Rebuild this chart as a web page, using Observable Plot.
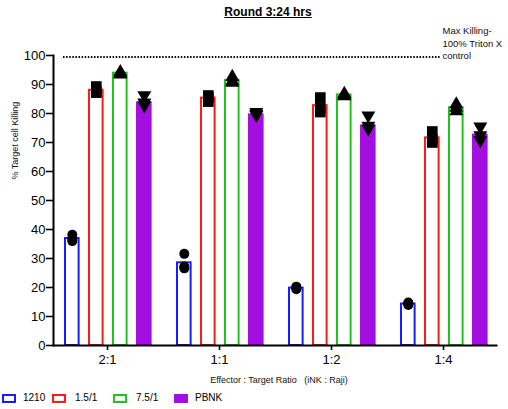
<!DOCTYPE html>
<html><head><meta charset="utf-8">
<script src="https://cdn.jsdelivr.net/npm/d3@7"></script>
<script src="https://cdn.jsdelivr.net/npm/@observablehq/plot@0.6"></script>
<style>
body{margin:0;background:#fff;font-family:"Liberation Sans",Arial,sans-serif;}
#wrap{position:relative;width:508px;height:409px;overflow:hidden;}
#title{position:absolute;left:0;top:4px;width:508px;text-align:center;padding-left:28px;box-sizing:border-box;font-size:12px;font-weight:bold;text-decoration:underline;line-height:16px;}
#chart{position:absolute;left:0;top:22px;}
.lg{position:absolute;top:393px;display:flex;align-items:center;font-size:10px;line-height:10px;}
.sw{width:10px;height:5px;box-sizing:content-box;}
</style></head><body>
<div id="wrap">
<div id="title">Round 3:24 hrs</div>
<div id="chart"></div>
<div id="legend"></div>
</div>
<script>
const groups = ["2:1", "1:1", "1:2", "1:4"];
const series = ["1210", "1.5/1", "7.5/1", "PBNK"];
const colors = ["#1b1bff", "#ff1b1b", "#1fc41f", "#a50ee0"];
const filled = [false, false, false, true];
const symbols = ["circle", "square", "triangle", "triangle"];
const rotations = [0, 0, 0, 180];
const symbolR = [5, 6, 5.2, 5.2];

// bar heights (means) per series, in group order
const mean1210 = [36.9, 28.5, 19.8, 14.3];
const mean15 = [88.0, 85.3, 82.7, 71.6];
const mean75 = [93.9, 91.4, 86.4, 82.0];
const meanPBNK = [84.0, 79.9, 76.0, 72.9];
const means = [mean1210, mean15, mean75, meanPBNK];

// replicate points per series, per group
const pts1210 = [[38.2, 36.5, 36.0], [31.6, 27.2, 26.6], [20.3, 19.8, 19.4], [14.8, 14.3, 14.0]];
const pts15 = [[89.3, 87.5, 87.2], [86.2, 85.5, 84.1], [85.5, 82.0, 80.5], [73.8, 71.0, 70.0]];
const pts75 = [[94.3, 93.8, 93.5], [92.6, 91.2, 90.6], [86.8, 86.3, 86.0], [83.2, 82.0, 80.8]];
const ptsPBNK = [[86.3, 83.8, 82.8], [80.5, 79.8, 79.5], [79.3, 75.8, 74.8], [75.5, 72.5, 70.8]];
const points = [pts1210, pts15, pts75, ptsPBNK];

const yTicks = [0, 10, 20, 30, 40, 50, 60, 70, 80, 90, 100];
const maxKill = 99.5;
const maxLabel = "Max Killing-\n100% Triton X\ncontrol";
const yLabel = "% Target cell Killing";
const xLabel = "Effector : Target Ratio   (iNK : Raji)";

const W = 508, H = 366, mL = 53, mR = 12, mT = 33, mB = 43;
const pIn = 0.218, pOut = 0.08;
const bw = d3.scaleBand(groups, [mL, W - mR]).paddingInner(pIn).paddingOuter(pOut).bandwidth();
const slotStep = 24, slotW = 15.5, slot0 = 1;

const marks = [];
series.forEach((s, i) => {
  const rows = groups.map((g, j) => ({group: g, value: means[i][j]}));
  const start = slot0 + slotStep * i;
  const adj = filled[i] ? 0 : 1;
  marks.push(Plot.barY(rows, {
    x: "group", y: "value",
    fill: filled[i] ? colors[i] : "white",
    stroke: filled[i] ? "none" : colors[i],
    strokeWidth: 2,
    insetLeft: start + adj,
    insetRight: bw - start - slotW + adj
  }));
});
marks.push(Plot.frame({anchor: "left", strokeWidth: 2}));
marks.push(Plot.frame({anchor: "bottom", strokeWidth: 2}));
series.forEach((s, i) => {
  const rows = [];
  groups.forEach((g, j) => points[i][j].forEach(v => rows.push({group: g, value: v})));
  const start = slot0 + slotStep * i;
  marks.push(Plot.dot(rows, {
    x: "group", y: "value",
    symbol: symbols[i], rotate: rotations[i],
    r: symbolR[i], fill: "black", stroke: "none",
    dx: start + slotW / 2 - bw / 2
  }));
});
marks.push(Plot.ruleY([maxKill], {stroke: "black", strokeWidth: 2, strokeDasharray: "1.5,1.6", insetLeft: 10, insetRight: 55}));
marks.push(Plot.text([maxLabel], {x: ["1:4"], y: [maxKill], text: d => d, textAnchor: "start", lineAnchor: "bottom", dy: 2, dx: -1, fontSize: 9.5, lineHeight: 1.3, fill: "#111"}));
marks.push(Plot.text([yLabel], {frameAnchor: "left", rotate: -90, dx: -38, dy: -21, text: d => d, fontSize: 9, fill: "#111"}));
marks.push(Plot.text([xLabel], {frameAnchor: "bottom", dy: 37, dx: 4, text: d => d, fontSize: 9, fill: "#111"}));
marks.push(Plot.axisY({ticks: yTicks, tickSize: 7, tickPadding: 1, fontSize: 13, strokeWidth: 1.6, label: null}));
marks.push(Plot.axisX({tickSize: 5, tickPadding: 4, fontSize: 13, strokeWidth: 1.6, label: null}));

const chart = Plot.plot({
  width: W, height: H,
  marginLeft: mL, marginRight: mR, marginTop: mT, marginBottom: mB,
  style: {fontFamily: "Liberation Sans, Arial, sans-serif", color: "black", background: "white", overflow: "visible"},
  x: {type: "band", domain: groups, paddingInner: pIn, paddingOuter: pOut, label: null},
  y: {domain: [0, 100], label: null},
  marks
});
document.getElementById("chart").appendChild(chart);

const lgX = [2, 52, 113, 174];
const legend = document.getElementById("legend");
series.forEach((s, i) => {
  const item = document.createElement("div");
  item.className = "lg";
  item.style.left = lgX[i] + "px";
  const sw = document.createElement("div");
  sw.className = "sw";
  sw.style.border = "2px solid " + colors[i];
  sw.style.background = filled[i] ? colors[i] : "white";
  const lab = document.createElement("span");
  lab.textContent = s;
  lab.style.marginLeft = (i === 0 || i === 3 ? 7 : 9) + "px";
  item.appendChild(sw); item.appendChild(lab);
  legend.appendChild(item);
});
</script>
</body></html>
